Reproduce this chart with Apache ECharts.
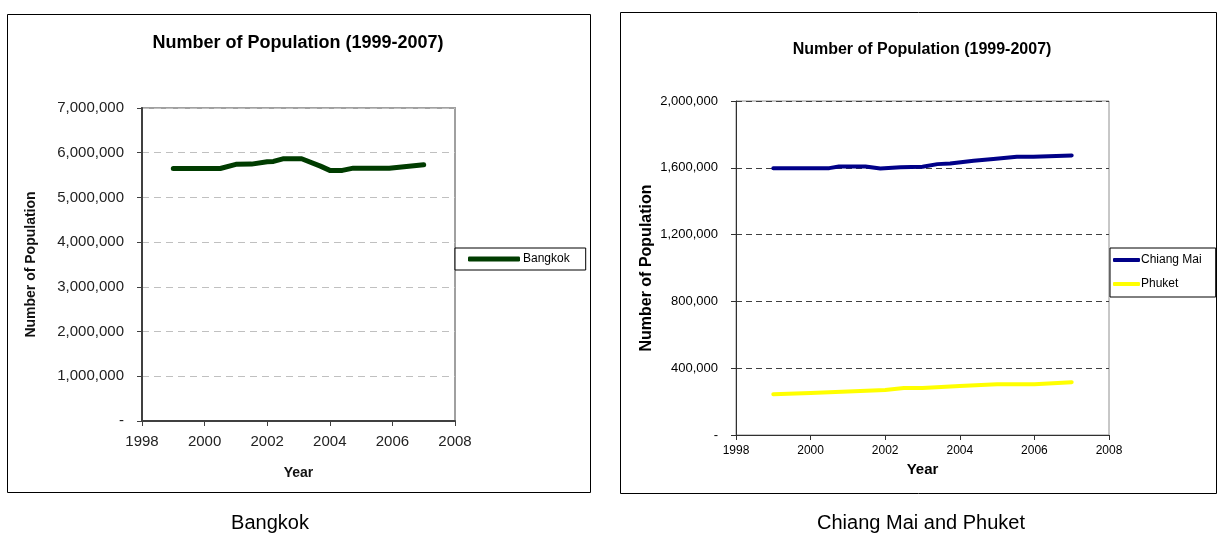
<!DOCTYPE html>
<html>
<head>
<meta charset="utf-8">
<script src="https://cdn.jsdelivr.net/npm/echarts@6/dist/echarts.min.js"></script>
<style>
  html, body { margin: 0; padding: 0; background: #fff; }
  #chart { width: 1224px; height: 539px; }
</style>
</head>
<body>
<div id="chart"></div>
<script>
// Population series, [year, people]
const bangkok = [
  [1999, 5647000], [2000.5, 5647000], [2001.0, 5740000], [2001.5, 5745000],
  [2002.0, 5800000], [2002.2, 5805000], [2002.5, 5864000], [2003.1, 5864000],
  [2003.7, 5700000], [2004.0, 5605000], [2004.4, 5605000], [2004.75, 5655000],
  [2005.9, 5655000], [2007.0, 5729000]
];
const chiangMai = [
  [1999, 1598000], [2000.5, 1598000], [2000.76, 1608000], [2001.47, 1608000],
  [2001.87, 1596000], [2002.41, 1604000], [2003.0, 1606000], [2003.4, 1622000],
  [2003.74, 1626000], [2004.37, 1642000], [2004.9, 1652000], [2005.53, 1666000],
  [2005.97, 1666000], [2007.0, 1674000]
];
const phuket = [
  [1999, 244000], [2000, 252000], [2001, 260000], [2002, 270000], [2002.5, 282000],
  [2003, 282000], [2004, 294000], [2005, 304000], [2006, 304000], [2007, 316000]
];

const chartTitle = 'Number of Population (1999-2007)';
const captions = ['Bangkok', 'Chiang Mai and Phuket'];
const yTitle = 'Number of Population';
const xTitle = 'Year';

const FONT = '"Liberation Sans", Arial, sans-serif';
const fmtNum = v => (v === 0 ? '-' : v.toLocaleString('en-US'));

const chart = echarts.init(document.getElementById('chart'), null, { renderer: 'canvas' });

chart.setOption({
  animation: false,
  backgroundColor: '#fff',
  textStyle: { fontFamily: FONT },
  grid: [
    { left: 142, top: 108, width: 313, height: 313, show: true, borderColor: '#a0a0a0', borderWidth: 2 },
    { left: 736, top: 101, width: 373, height: 334, show: true, borderColor: '#909090', borderWidth: 1 }
  ],
  xAxis: [
    {
      gridIndex: 0, type: 'value', min: 1998, max: 2008, interval: 2,
      name: xTitle, nameLocation: 'middle', nameGap: 45,
      nameTextStyle: { fontFamily: FONT, fontWeight: 'bold', fontSize: 14, color: '#111' },
      axisLine: { show: true, onZero: false, lineStyle: { color: '#404040', width: 2 } },
      axisTick: { show: true, length: 5, lineStyle: { color: '#404040', width: 1 } },
      axisLabel: { margin: 13, fontSize: 15, color: '#222', fontFamily: FONT, formatter: v => String(v) },
      splitLine: { show: false }
    },
    {
      gridIndex: 1, type: 'value', min: 1998, max: 2008, interval: 2,
      name: xTitle, nameLocation: 'middle', nameGap: 26,
      nameTextStyle: { fontFamily: FONT, fontWeight: 'bold', fontSize: 15, color: '#000' },
      axisLine: { show: true, onZero: false, lineStyle: { color: '#303030', width: 1 } },
      axisTick: { show: true, length: 5, lineStyle: { color: '#303030', width: 1 } },
      axisLabel: { margin: 10, fontSize: 12, color: '#000', fontFamily: FONT, formatter: v => String(v) },
      splitLine: { show: false }
    }
  ],
  yAxis: [
    {
      gridIndex: 0, type: 'value', min: 0, max: 7000000, interval: 1000000,
      name: yTitle, nameLocation: 'middle', nameGap: 104, nameRotate: 90,
      nameTextStyle: { fontFamily: FONT, fontWeight: 'bold', fontSize: 14, color: '#111' },
      axisLine: { show: true, lineStyle: { color: '#404040', width: 2 } },
      axisTick: { show: true, length: 5, lineStyle: { color: '#404040', width: 1 } },
      axisLabel: { margin: 18, fontSize: 15, color: '#222', fontFamily: FONT, formatter: fmtNum },
      splitLine: { show: true, lineStyle: { color: '#c0c0c0', type: [7, 5], width: 1 } }
    },
    {
      gridIndex: 1, type: 'value', min: 0, max: 2000000, interval: 400000,
      name: yTitle, nameLocation: 'middle', nameGap: 81, nameRotate: 90,
      nameTextStyle: { fontFamily: FONT, fontWeight: 'bold', fontSize: 16, color: '#000' },
      axisLine: { show: true, lineStyle: { color: '#303030', width: 1 } },
      axisTick: { show: true, length: 5, lineStyle: { color: '#303030', width: 1 } },
      axisLabel: { margin: 18, fontSize: 13, color: '#000', fontFamily: FONT, formatter: fmtNum },
      splitLine: { show: true, lineStyle: { color: '#404040', type: [6, 4], width: 1 } }
    }
  ],
  legend: [
    {
      data: ['Bangkok'], left: 455, top: 248, orient: 'vertical',
      backgroundColor: '#fff', borderColor: '#000', borderWidth: 1,
      padding: [5, 16, 5, 13], icon: 'roundRect', itemWidth: 52, itemHeight: 5, itemGap: 4,
      textStyle: { fontFamily: FONT, fontSize: 12, color: '#000', padding: [0, 0, 0, -2] }
    },
    {
      data: ['Chiang Mai', 'Phuket'], left: 1110, top: 248, orient: 'vertical',
      backgroundColor: '#fff', borderColor: '#000', borderWidth: 1,
      padding: [6, 14, 7, 3], icon: 'roundRect', itemWidth: 27, itemHeight: 4, itemGap: 12,
      textStyle: { fontFamily: FONT, fontSize: 12, color: '#000', padding: [0, 0, 0, -4] }
    }
  ],
  series: [
    {
      name: 'Bangkok', type: 'line', xAxisIndex: 0, yAxisIndex: 0, data: bangkok,
      symbol: 'none', color: '#003c00',
      lineStyle: { width: 5, color: '#003c00', cap: 'round', join: 'round' }
    },
    {
      name: 'Chiang Mai', type: 'line', xAxisIndex: 1, yAxisIndex: 1, data: chiangMai,
      symbol: 'none', color: '#000088',
      lineStyle: { width: 4, color: '#000088', cap: 'round', join: 'round' }
    },
    {
      name: 'Phuket', type: 'line', xAxisIndex: 1, yAxisIndex: 1, data: phuket,
      symbol: 'none', color: '#ffff00',
      lineStyle: { width: 4, color: '#ffff00', cap: 'round', join: 'round' }
    }
  ],
  graphic: [
    // chart frames
    { type: 'rect', z: -1, shape: { x: 7.5, y: 14.5, width: 583, height: 478 },
      style: { fill: 'none', stroke: '#000', lineWidth: 1 } },
    { type: 'rect', z: -1, shape: { x: 620.5, y: 12.5, width: 596, height: 481 },
      style: { fill: 'none', stroke: '#000', lineWidth: 1 } },
    // chart titles
    { type: 'text', x: 298, y: 43, style: { text: chartTitle, fill: '#000',
      font: 'bold 18px ' + FONT, textAlign: 'center', textVerticalAlign: 'middle' } },
    { type: 'text', x: 922, y: 50, style: { text: chartTitle, fill: '#000',
      font: 'bold 16px ' + FONT, textAlign: 'center', textVerticalAlign: 'middle' } },
    // captions under each chart
    { type: 'text', x: 270, y: 523, style: { text: captions[0], fill: '#000',
      font: '20px ' + FONT, textAlign: 'center', textVerticalAlign: 'middle' } },
    { type: 'text', x: 921, y: 523, style: { text: captions[1], fill: '#000',
      font: '20px ' + FONT, textAlign: 'center', textVerticalAlign: 'middle' } }
  ]
});
</script>
</body>
</html>
